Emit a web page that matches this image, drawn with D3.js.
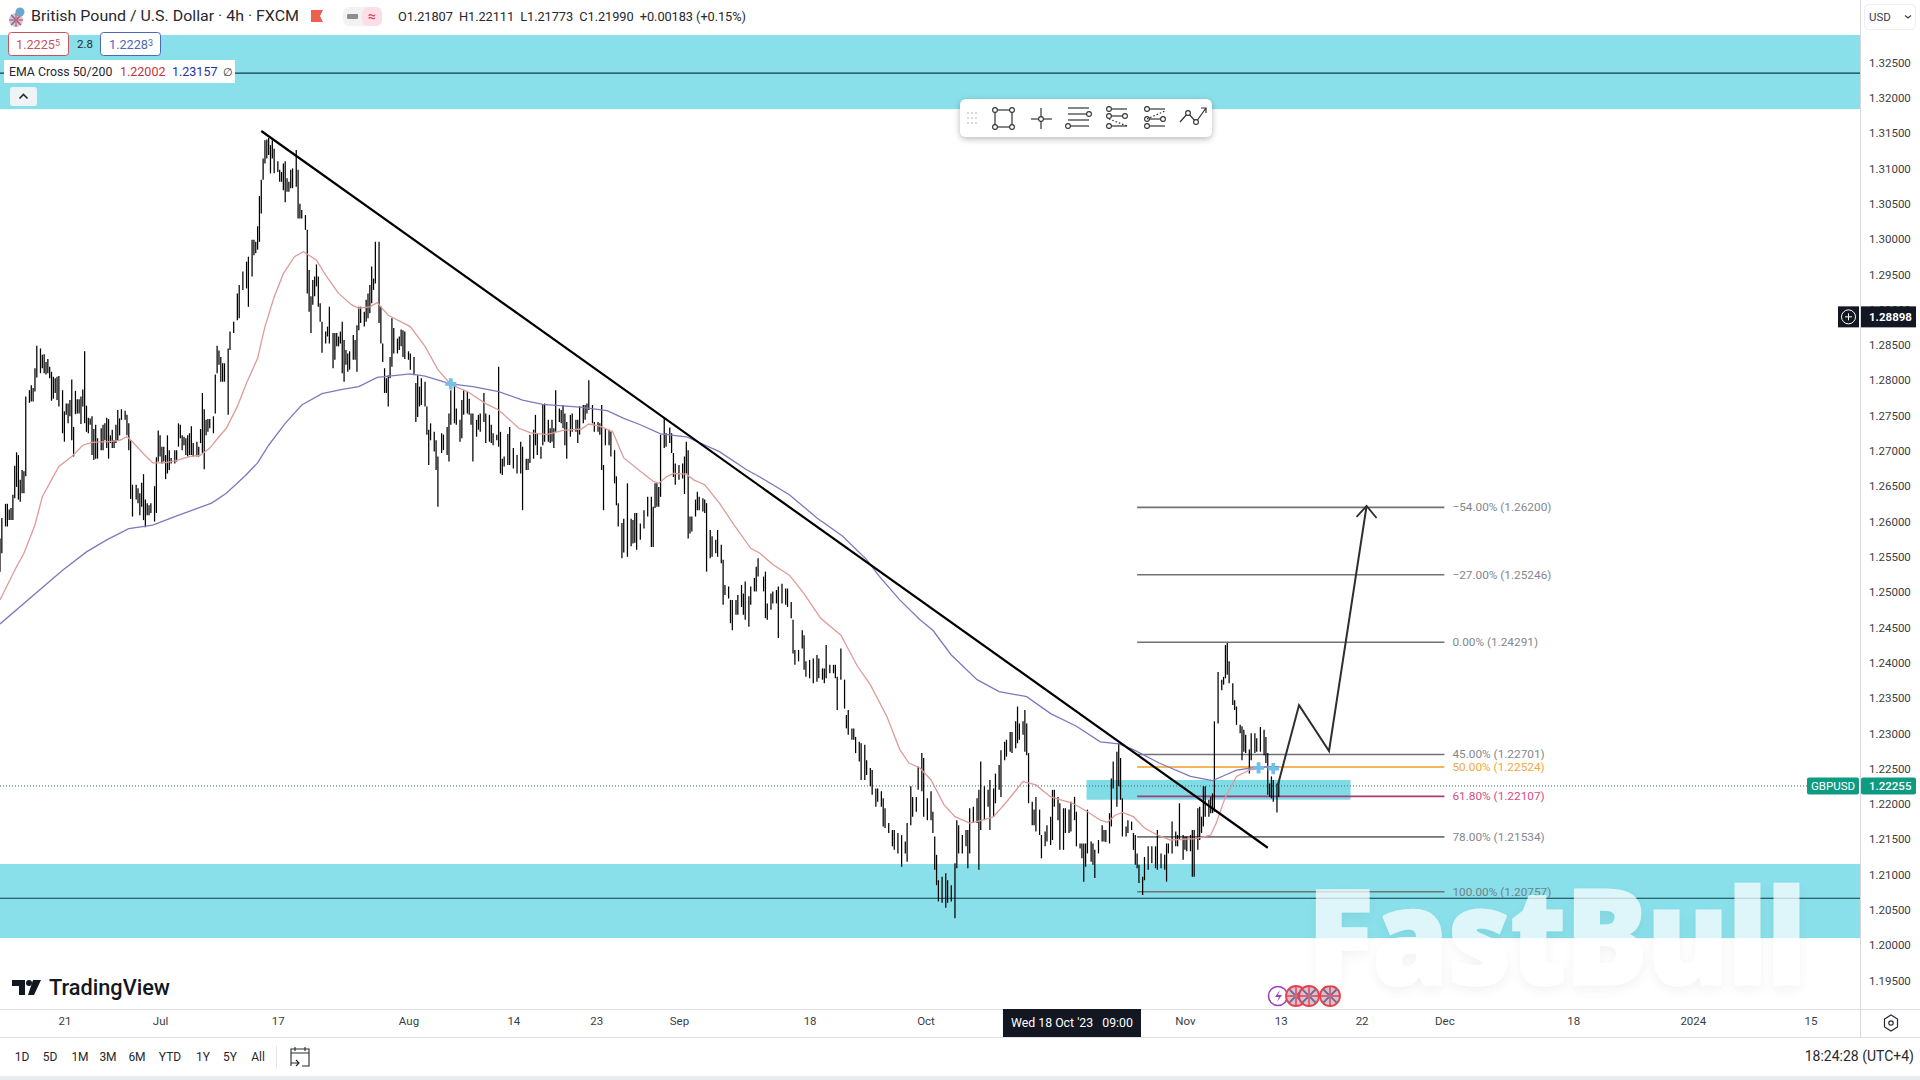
<!DOCTYPE html>
<html>
<head>
<meta charset="utf-8">
<title>GBPUSD 4h</title>
<script src="https://cdnjs.cloudflare.com/ajax/libs/d3/7.8.5/d3.min.js"></script>
<style>
  html, body { margin: 0; padding: 0; background: #fff; overflow: hidden; }
  text { font-family: Roboto, sans-serif; }
</style>
</head>
<body>
<svg id="chart" width="1920" height="1080"></svg>
<script>
// 4h bars. barNo counts 4h bars from the left edge of the pane
const barNo = [
  0,1,3,4,5,6,7,8,9,10,11,12,13,14,16,17,18,19,20,22,
  23,24,25,26,27,28,29,30,31,32,34,35,36,37,38,39,40,41,42,43,
  44,45,46,47,48,49,50,51,52,53,55,56,57,58,59,60,61,62,63,64,
  65,66,68,69,70,71,72,74,75,76,77,78,79,80,81,82,84,85,86,87,
  88,89,90,91,92,93,95,96,97,98,99,100,101,102,103,104,105,107,108,109,
  110,111,112,113,114,116,117,118,119,120,121,122,124,125,127,129,130,132,134,135,
  137,138,139,140,141,142,143,144,145,146,147,148,149,151,152,153,154,155,156,157,
  158,159,161,162,163,164,166,167,168,169,170,171,172,173,174,175,177,178,179,181,
  182,183,184,185,186,187,188,189,190,192,193,194,195,196,198,199,200,201,202,203,
  204,206,207,208,209,210,211,212,213,214,216,217,218,219,220,222,223,225,226,227,
  228,229,231,232,233,234,236,237,238,240,241,243,244,245,247,248,250,251,252,254,
  255,256,257,259,260,261,263,264,266,267,268,270,271,272,273,274,276,277,279,281,
  283,284,286,287,288,290,291,292,294,295,296,298,299,300,301,302,304,305,306,307,
  308,310,311,313,314,315,317,318,319,320,322,323,325,326,327,328,329,331,332,334,
  335,336,338,339,341,343,344,345,346,
  348,350,352,354,355,356,357,358,359,361,362,364,365,366,
  367,369,371,372,373,374,375,376,378,379,380,382,383,384,386,387,389,390,392,393,
  394,396,397,398,400,401,403,404,405,407,408,410,411,412,415,416,417,419,420,422,
  423,425,427,428,430,431,432,434,436,437,438,440,442,444,445,447,448,449,451,453,
  454,455,457,459,460,461,463,464,465,467,468,470,471,473,474,476,477,479,480,481,
  483,485,486,488,490,492,493,495,496,498,499,501,502,504,506,507,508,509,510,512,
  514,515,517,519,520,521,523,525,526,527,529,531,532,533,535,537,538,540,541,543,
  544,546,547,549,550,552,553,554,556,557,558,559,561,562,563,565,566,568,569,571,
  572,573,575,576,578,579,581,582,584,585,587,588,589,590,591,593,594,595,597,599,
  600,601,603,604,605,607,608,609,610,612,613,615,616,617,618,619,621,622,624,626,
  628,629,631,633,634,635,637,639,640,641,643,644,645,647,648,649,651,652,653,654,
  655,657,658,659,660,662,664,665,666,667,668,670,671,672,674,675,676,677,679,680,
  682,683,685,687,688,689,690,691,692,694,695
];
const highs = [
  1.2576,1.2605,1.2625,1.2625,1.2617,1.2619,1.2638,1.2679,1.2698,1.2694,1.2659,1.2673,1.2671,1.2777,1.2786,1.2793,1.2789,1.2817,1.2849,1.2845,
  1.2836,1.2837,1.2826,1.2830,1.2819,1.2812,1.2805,1.2803,1.2805,1.2806,1.2786,1.2756,1.2767,1.2767,1.2772,1.2801,1.2734,1.2785,1.2773,1.2773,
  1.2777,1.2787,1.2841,1.2764,1.2747,1.2746,1.2749,1.2731,1.2737,1.2718,1.2732,1.2737,1.2739,1.2747,1.2745,1.2722,1.2730,1.2715,1.2737,1.2758,
  1.2746,1.2759,1.2757,1.2751,1.2739,1.2715,1.2652,1.2652,1.2647,1.2640,1.2655,1.2667,1.2631,1.2626,1.2623,1.2626,1.2650,1.2691,1.2729,1.2722,
  1.2706,1.2706,1.2694,1.2722,1.2701,1.2690,1.2701,1.2701,1.2739,1.2737,1.2722,1.2720,1.2718,1.2722,1.2725,1.2735,1.2711,1.2713,1.2706,1.2731,
  1.2782,1.2759,1.2744,1.2745,1.2745,1.2749,1.2808,1.2849,1.2842,1.2833,1.2824,1.2824,1.2845,1.2869,1.2883,1.2923,1.2935,1.2954,1.2968,1.2975,
  1.2999,1.2999,1.2996,1.3018,1.3061,1.3084,1.3114,1.3140,1.3141,1.3143,1.3133,1.3140,1.3128,1.3110,1.3098,1.3095,1.3107,1.3110,1.3086,1.3081,
  1.3098,1.3100,1.3126,1.3098,1.3050,1.3041,1.3034,1.3013,1.2956,1.2919,1.2942,1.2947,1.2964,1.2947,1.2909,1.2883,1.2869,1.2876,1.2904,1.2867,
  1.2867,1.2867,1.2862,1.2869,1.2883,1.2857,1.2843,1.2838,1.2841,1.2864,1.2857,1.2878,1.2904,1.2904,1.2897,1.2914,1.2923,1.2935,1.2961,1.2944,
  1.2996,1.2996,1.2904,1.2852,1.2817,1.2803,1.2807,1.2833,1.2888,1.2874,1.2859,1.2862,1.2872,1.2871,1.2869,1.2841,1.2838,1.2833,1.2796,1.2807,
  1.2791,1.2803,1.2798,1.2763,1.2730,1.2739,1.2727,1.2715,1.2692,1.2725,1.2723,1.2734,1.2753,1.2786,1.2793,1.2760,1.2744,1.2772,1.2786,1.2784,
  1.2774,1.2753,1.2753,1.2744,1.2751,1.2753,1.2782,1.2753,1.2751,1.2737,1.2725,1.2723,1.2819,1.2727,1.2689,1.2692,1.2724,1.2734,1.2704,1.2694,
  1.2713,1.2706,1.2689,1.2689,1.2723,1.2730,1.2751,1.2725,1.2706,1.2766,1.2767,1.2744,1.2732,1.2744,1.2732,1.2786,1.2760,1.2758,1.2765,1.2753,
  1.2741,1.2751,1.2753,1.2744,1.2744,1.2763,1.2765,1.2765,1.2767,1.2800,1.2765,1.2741,1.2741,1.2739,1.2765,1.2680,1.2732,1.2730,1.2727,1.2701,
  1.2664,1.2626,1.2598,1.2604,1.2654,1.2604,1.2602,1.2612,1.2612,
  1.2597,1.2616,1.2635,1.2635,1.2621,1.2654,1.2654,1.2649,1.2723,1.2748,1.2725,1.2733,1.2725,1.2697,
  1.2682,1.2680,1.2682,1.2692,1.2713,1.2701,1.2607,1.2607,1.2631,1.2642,1.2635,1.2633,1.2631,1.2626,1.2588,1.2579,1.2574,1.2588,1.2567,1.2546,
  1.2510,1.2508,1.2489,1.2489,1.2489,1.2496,1.2510,1.2498,1.2515,1.2494,1.2508,1.2520,1.2536,1.2548,1.2522,1.2529,1.2484,1.2498,1.2501,1.2503,
  1.2508,1.2512,1.2505,1.2505,1.2486,1.2461,1.2418,1.2418,1.2446,1.2439,1.2402,1.2404,1.2406,1.2411,1.2406,1.2392,1.2392,1.2425,1.2397,1.2397,
  1.2397,1.2380,1.2420,1.2376,1.2326,1.2333,1.2307,1.2307,1.2295,1.2288,1.2286,1.2284,1.2262,1.2251,1.2248,1.2222,1.2222,1.2218,1.2208,1.2194,
  1.2173,1.2163,1.2163,1.2159,1.2156,1.2147,1.2173,1.2225,1.2210,1.2210,1.2253,1.2272,1.2265,1.2208,1.2218,1.2189,1.2154,1.2128,1.2092,1.2097,
  1.2102,1.2092,1.2085,1.2116,1.2177,1.2170,1.2156,1.2163,1.2163,1.2194,1.2196,1.2208,1.2220,1.2260,1.2225,1.2220,1.2234,1.2222,1.2243,1.2255,
  1.2276,1.2288,1.2291,1.2302,1.2302,1.2317,1.2338,1.2314,1.2317,1.2333,1.2314,1.2272,1.2203,1.2192,1.2210,1.2192,1.2156,1.2161,1.2170,1.2182,
  1.2220,1.2220,1.2210,1.2201,1.2194,1.2194,1.2192,1.2203,1.2210,1.2189,1.2144,1.2144,1.2144,1.2144,1.2192,1.2147,1.2144,1.2135,1.2149,1.2170,
  1.2163,1.2163,1.2187,1.2236,1.2260,1.2274,1.2286,1.2265,1.2208,1.2168,1.2177,1.2175,1.2159,1.2156,1.2130,1.2114,1.2097,1.2125,1.2140,1.2140,
  1.2140,1.2163,1.2130,1.2128,1.2144,1.2144,1.2175,1.2161,1.2156,1.2201,1.2156,1.2154,1.2154,1.2156,1.2163,1.2163,1.2194,1.2196,1.2182,1.2225,
  1.2225,1.2206,1.2210,1.2215,1.2317,1.2387,1.2376,1.2380,1.2425,1.2428,1.2402,1.2371,1.2347,1.2338,1.2312,1.2310,1.2305,1.2298,1.2277,1.2300,
  1.2300,1.2293,1.2309,1.2305,1.2295,1.2272,1.2229,1.2239,1.2234,1.2229,1.2232
];
const lows = [
  1.2529,1.2555,1.2593,1.2593,1.2602,1.2602,1.2602,1.2633,1.2649,1.2631,1.2628,1.2640,1.2640,1.2664,1.2768,1.2770,1.2770,1.2784,1.2804,1.2810,
  1.2817,1.2810,1.2808,1.2810,1.2803,1.2771,1.2774,1.2782,1.2772,1.2763,1.2725,1.2713,1.2751,1.2739,1.2749,1.2715,1.2692,1.2752,1.2753,1.2753,
  1.2738,1.2763,1.2739,1.2727,1.2725,1.2737,1.2694,1.2687,1.2689,1.2689,1.2701,1.2701,1.2715,1.2704,1.2689,1.2711,1.2704,1.2704,1.2711,1.2715,
  1.2722,1.2744,1.2744,1.2722,1.2701,1.2632,1.2607,1.2631,1.2626,1.2609,1.2621,1.2602,1.2592,1.2609,1.2609,1.2612,1.2600,1.2612,1.2685,1.2692,
  1.2682,1.2685,1.2660,1.2668,1.2673,1.2682,1.2682,1.2685,1.2706,1.2718,1.2701,1.2708,1.2694,1.2692,1.2694,1.2694,1.2692,1.2692,1.2692,1.2711,
  1.2697,1.2674,1.2722,1.2727,1.2732,1.2725,1.2753,1.2810,1.2822,1.2798,1.2798,1.2798,1.2751,1.2843,1.2867,1.2885,1.2888,1.2928,1.2930,1.2904,
  1.2947,1.2977,1.2980,1.2985,1.2996,1.3036,1.3084,1.3107,1.3114,1.3119,1.3093,1.3114,1.3093,1.3095,1.3081,1.3081,1.3069,1.3052,1.3067,1.3067,
  1.3072,1.3072,1.3074,1.3029,1.3029,1.3029,1.3013,1.2923,1.2897,1.2867,1.2907,1.2919,1.2933,1.2904,1.2883,1.2839,1.2852,1.2862,1.2852,1.2817,
  1.2829,1.2848,1.2848,1.2852,1.2810,1.2798,1.2822,1.2812,1.2815,1.2829,1.2829,1.2812,1.2871,1.2881,1.2876,1.2883,1.2888,1.2895,1.2909,1.2928,
  1.2937,1.2881,1.2852,1.2826,1.2782,1.2782,1.2763,1.2803,1.2819,1.2838,1.2838,1.2843,1.2848,1.2833,1.2830,1.2829,1.2815,1.2807,1.2741,1.2748,
  1.2763,1.2765,1.2763,1.2723,1.2680,1.2715,1.2699,1.2673,1.2621,1.2697,1.2701,1.2694,1.2685,1.2737,1.2739,1.2737,1.2713,1.2718,1.2751,1.2753,
  1.2751,1.2737,1.2685,1.2720,1.2730,1.2727,1.2741,1.2711,1.2713,1.2711,1.2708,1.2715,1.2706,1.2668,1.2666,1.2678,1.2680,1.2680,1.2675,1.2668,
  1.2668,1.2616,1.2673,1.2673,1.2683,1.2689,1.2708,1.2694,1.2689,1.2708,1.2713,1.2713,1.2711,1.2713,1.2704,1.2727,1.2741,1.2739,1.2732,1.2708,
  1.2689,1.2720,1.2727,1.2727,1.2711,1.2723,1.2739,1.2744,1.2753,1.2758,1.2739,1.2727,1.2727,1.2723,1.2673,1.2616,1.2708,1.2708,1.2692,1.2654,
  1.2623,1.2593,1.2548,1.2556,1.2550,1.2565,1.2569,1.2570,1.2560,
  1.2574,1.2590,1.2607,1.2564,1.2564,1.2619,1.2621,1.2621,1.2635,1.2704,1.2706,1.2711,1.2697,1.2663,
  1.2652,1.2659,1.2661,1.2639,1.2668,1.2576,1.2583,1.2586,1.2607,1.2616,1.2616,1.2614,1.2612,1.2529,1.2548,1.2550,1.2555,1.2550,1.2541,1.2482,
  1.2496,1.2491,1.2456,1.2446,1.2468,1.2468,1.2479,1.2468,1.2461,1.2451,1.2482,1.2501,1.2501,1.2522,1.2501,1.2463,1.2461,1.2475,1.2484,1.2484,
  1.2435,1.2484,1.2482,1.2479,1.2463,1.2413,1.2397,1.2402,1.2420,1.2390,1.2380,1.2378,1.2371,1.2373,1.2378,1.2376,1.2371,1.2378,1.2385,1.2385,
  1.2378,1.2333,1.2376,1.2335,1.2307,1.2298,1.2291,1.2291,1.2272,1.2260,1.2234,1.2234,1.2241,1.2225,1.2213,1.2196,1.2203,1.2196,1.2168,1.2166,
  1.2159,1.2140,1.2135,1.2130,1.2111,1.2130,1.2118,1.2170,1.2182,1.2189,1.2220,1.2218,1.2182,1.2177,1.2177,1.2159,1.2107,1.2085,1.2062,1.2060,
  1.2053,1.2060,1.2062,1.2038,1.2109,1.2130,1.2130,1.2140,1.2109,1.2130,1.2173,1.2173,1.2107,1.2163,1.2177,1.2196,1.2163,1.2182,1.2201,1.2220,
  1.2210,1.2262,1.2267,1.2274,1.2272,1.2279,1.2286,1.2291,1.2298,1.2274,1.2269,1.2201,1.2170,1.2170,1.2161,1.2156,1.2123,1.2140,1.2147,1.2142,
  1.2149,1.2196,1.2177,1.2135,1.2135,1.2159,1.2159,1.2161,1.2177,1.2140,1.2137,1.2123,1.2090,1.2111,1.2130,1.2118,1.2114,1.2095,1.2130,1.2147,
  1.2147,1.2146,1.2144,1.2168,1.2222,1.2196,1.2225,1.2206,1.2154,1.2154,1.2159,1.2163,1.2135,1.2114,1.2109,1.2088,1.2071,1.2092,1.2107,1.2116,
  1.2109,1.2107,1.2109,1.2107,1.2090,1.2130,1.2130,1.2140,1.2140,1.2149,1.2121,1.2135,1.2133,1.2133,1.2097,1.2097,1.2135,1.2149,1.2159,1.2168,
  1.2182,1.2182,1.2187,1.2187,1.2189,1.2314,1.2361,1.2369,1.2378,1.2383,1.2371,1.2340,1.2333,1.2312,1.2300,1.2262,1.2274,1.2272,1.2243,1.2262,
  1.2272,1.2274,1.2274,1.2269,1.2258,1.2213,1.2210,1.2208,1.2203,1.2188,1.2210
];

// EMA 50 and EMA 200, read at the bends of each line
const ema50Bars = [0,8,13,19,23,28,32,39,45,50,59,65,69,72,78,83,89,95,103,109,114,119,123,129,134,140,144,149,154,160,165,172,177,184,191,195,201,205,211,223,231,238,245,254,264,271,282,288,297,306,316,320,326,333,339,348,355,358,362,366,373,377,383,391,399,408,413,420,429,437,446,457,466,473,482,489,494,500,506,513,519,527,534,540,548,556,563,571,583,591,598,602,606,610,616,622,629,636,650,658,661,666,672,679,688,695];
const ema50 = [1.2489,1.2531,1.2555,1.2595,1.2635,1.2659,1.2678,1.2692,1.2708,1.2712,1.2713,1.2715,1.2720,1.2713,1.2696,1.2683,1.2683,1.2686,1.2692,1.2694,1.2704,1.2720,1.2732,1.2763,1.2796,1.2831,1.2876,1.2918,1.2951,1.2975,1.2982,1.2970,1.2949,1.2923,1.2907,1.2902,1.2904,1.2910,1.2892,1.2876,1.2848,1.2815,1.2794,1.2784,1.2767,1.2758,1.2732,1.2726,1.2723,1.2729,1.2731,1.2738,1.2735,1.2727,1.2690,1.2671,1.2657,1.2654,1.2663,1.2668,1.2667,1.2659,1.2652,1.2626,1.2595,1.2562,1.2555,1.2539,1.2524,1.2498,1.2463,1.2439,1.2395,1.2369,1.2324,1.2277,1.2258,1.2251,1.2234,1.2199,1.2182,1.2173,1.2177,1.2182,1.2206,1.2232,1.2227,1.2210,1.2201,1.2189,1.2177,1.2174,1.2184,1.2188,1.2182,1.2166,1.2156,1.2149,1.2151,1.2156,1.2173,1.2210,1.2239,1.2248,1.2253,1.2252];
const ema200Bars = [0,34,47,58,70,83,95,115,123,133,140,146,155,164,175,186,195,205,223,231,245,257,271,284,295,315,330,339,348,359,373,391,406,413,429,444,458,471,478,489,500,507,517,531,543,558,571,585,598,608,616,630,647,659,666,672,683,695];
const ema200 = [1.2455,1.2531,1.2557,1.2574,1.2590,1.2595,1.2607,1.2626,1.2640,1.2664,1.2683,1.2708,1.2739,1.2765,1.2781,1.2787,1.2791,1.2804,1.2809,1.2806,1.2795,1.2791,1.2784,1.2772,1.2766,1.2762,1.2757,1.2746,1.2737,1.2724,1.2720,1.2699,1.2673,1.2663,1.2638,1.2605,1.2579,1.2546,1.2522,1.2489,1.2461,1.2446,1.2411,1.2376,1.2359,1.2352,1.2328,1.2310,1.2288,1.2285,1.2277,1.2258,1.2239,1.2233,1.2241,1.2248,1.2252,1.2253];

// EMA cross markers
const crossBars = [245, 684, 692];
const crossPrices = [1.2795, 1.2251, 1.2250];

// support / resistance zones and their centre lines
const zoneTops = [1.3289, 1.2115];
const zoneBottoms = [1.3184, 1.2010];
const zoneMids = [1.3235, 1.20665];
const smallZoneBars = [590.5, 734];
const smallZonePrices = [1.2234, 1.2206];

// trend line and projected path
const trendBars = [142, 689];
const trendPrices = [1.3153, 1.2138];
const pathBars = [694.5, 706, 722.3, 742.7];
const pathPrices = [1.2227, 1.2340, 1.2275, 1.2622];

// fibonacci levels
const fibBars = [618, 785];
const fibLevels = [-54, -27, 0, 45, 50, 61.8, 78, 100];
const fibPrices = [1.26200, 1.25246, 1.24291, 1.22701, 1.22524, 1.22107, 1.21534, 1.20757];
const fibColors = ['#6f7278','#6f7278','#6f7278','#6f7278','#f29d26','#a83a78','#6f7278','#6f7278'];
const fibTextColors = ['#84878e','#84878e','#84878e','#84878e','#f0a840','#d24f86','#84878e','#6d8388'];

// axes
const priceTicks = d3.range(27).map(i => +(1.195 + i * 0.005).toFixed(3));
const timeTickBars = [35, 87, 151, 222, 279, 324, 369, 440, 503, 644, 696, 740, 785, 855, 920, 984];
const timeTickLabels = ['21','Jul','17','Aug','14','23','Sep','18','Oct','Nov','13','22','Dec','18','2024','15'];
const rangeButtons = ['1D','5D','1M','3M','6M','YTD','1Y','5Y','All'];
const rangeButtonX = [22, 50, 80, 108, 137, 170, 203, 230, 258];

const lastPrice = 1.22255;
const crosshairPrice = 1.28898;
const crosshairBar = 582.6;

const paneRight = 1860, paneTop = 35, paneBottom = 1009;
const x = d3.scaleLinear().domain([0, 1010.87]).range([0, paneRight]);
const y = d3.scaleLinear().domain([1.325, 1.195]).range([62.5, 980.5]);

const svg = d3.select('#chart');
const defs = svg.append('defs');
defs.append('clipPath').attr('id', 'pane').append('rect')
  .attr('x', 0).attr('y', paneTop).attr('width', paneRight).attr('height', paneBottom - paneTop);
const shadow = defs.append('filter').attr('id', 'soft').attr('x', '-20%').attr('y', '-40%').attr('width', '140%').attr('height', '200%');
shadow.append('feDropShadow').attr('dx', 0).attr('dy', 2).attr('stdDeviation', 3).attr('flood-color', '#000').attr('flood-opacity', 0.28);
const wmShadow = defs.append('filter').attr('id', 'wm').attr('x', '-5%').attr('y', '-20%').attr('width', '110%').attr('height', '150%');
wmShadow.append('feDropShadow').attr('dx', 0).attr('dy', 5).attr('stdDeviation', 6).attr('flood-color', '#000').attr('flood-opacity', 0.07);

const pane = svg.append('g').attr('clip-path', 'url(#pane)');

// zones
pane.selectAll('rect.zone').data(zoneTops).join('rect')
  .attr('class', 'zone')
  .attr('x', 0).attr('width', paneRight)
  .attr('y', d => y(d))
  .attr('height', (d, i) => y(zoneBottoms[i]) - y(d))
  .attr('fill', '#8ae0ea');
pane.append('rect')
  .attr('x', x(smallZoneBars[0])).attr('width', x(smallZoneBars[1]) - x(smallZoneBars[0]))
  .attr('y', y(smallZonePrices[0])).attr('height', y(smallZonePrices[1]) - y(smallZonePrices[0]))
  .attr('fill', '#7fdbe6');
pane.selectAll('line.mid').data(zoneMids).join('line')
  .attr('class', 'mid')
  .attr('x1', 0).attr('x2', paneRight)
  .attr('y1', d => y(d)).attr('y2', d => y(d))
  .attr('stroke', '#0b3d4a').attr('stroke-width', 1.1);

// fib levels
pane.selectAll('line.fib').data(fibPrices).join('line')
  .attr('class', 'fib')
  .attr('x1', x(fibBars[0])).attr('x2', x(fibBars[1]))
  .attr('y1', d => y(d)).attr('y2', d => y(d))
  .attr('stroke', (d, i) => fibColors[i]).attr('stroke-width', 1.6);
pane.selectAll('text.fib').data(fibPrices).join('text')
  .attr('class', 'fib')
  .attr('x', x(fibBars[1]) + 8)
  .attr('y', d => y(d) + 4)
  .attr('font-size', 11.8)
  .attr('fill', (d, i) => fibTextColors[i])
  .text((d, i) => `${fibLevels[i] < 0 ? '\u2212' : ''}${Math.abs(fibLevels[i]).toFixed(2)}% (${d.toFixed(5)})`);

// last price line
pane.append('line')
  .attr('x1', 0).attr('x2', 1807)
  .attr('y1', y(lastPrice)).attr('y2', y(lastPrice))
  .attr('stroke', '#2f6f68').attr('stroke-width', 1).attr('stroke-dasharray', '1 2');

// bars
pane.append('g').selectAll('line').data(barNo).join('line')
  .attr('x1', d => x(d)).attr('x2', d => x(d))
  .attr('y1', (d, i) => y(highs[i]))
  .attr('y2', (d, i) => y(lows[i]))
  .attr('stroke', '#000').attr('stroke-width', 1.25);

// EMAs
const emaLine = d3.line().x(d => x(d[0])).y(d => y(d[1]));
pane.append('path').attr('d', emaLine(d3.zip(ema50Bars, ema50)))
  .attr('fill', 'none').attr('stroke', '#dd9c98').attr('stroke-width', 1.3);
pane.append('path').attr('d', emaLine(d3.zip(ema200Bars, ema200)))
  .attr('fill', 'none').attr('stroke', '#7c79bd').attr('stroke-width', 1.3);

// cross markers
pane.selectAll('path.cross').data(crossBars).join('path')
  .attr('class', 'cross')
  .attr('d', d3.symbol(d3.symbolCross, 70))
  .attr('transform', (d, i) => `translate(${x(d)},${y(crossPrices[i])})`)
  .attr('fill', '#74bfe8');

// trend line
pane.append('line')
  .attr('x1', x(trendBars[0])).attr('y1', y(trendPrices[0]))
  .attr('x2', x(trendBars[1])).attr('y2', y(trendPrices[1]))
  .attr('stroke', '#000').attr('stroke-width', 2.2);

// projected path with arrow head
const pathPts = d3.zip(pathBars, pathPrices);
pane.append('path').attr('d', emaLine(pathPts))
  .attr('fill', 'none').attr('stroke', '#2e2e2e').attr('stroke-width', 2).attr('stroke-linejoin', 'miter');
const tipX = x(pathBars[3]), tipY = y(pathPrices[3]);
pane.append('path')
  .attr('d', `M${tipX - 10},${tipY + 11}L${tipX},${tipY}L${tipX + 10},${tipY + 12}`)
  .attr('fill', 'none').attr('stroke', '#2e2e2e').attr('stroke-width', 1.8);

// price axis
const yAxis = d3.axisRight(y).tickValues(priceTicks).tickSize(0).tickPadding(9).tickFormat(d3.format('.5f'));
const yAxisG = svg.append('g').attr('transform', `translate(${paneRight},0)`).call(yAxis);
yAxisG.select('.domain').remove();
yAxisG.selectAll('text').attr('font-size', 11.5).attr('font-family', 'Roboto, sans-serif').attr('fill', '#3a3d45');
svg.append('line').attr('x1', paneRight + 0.5).attr('x2', paneRight + 0.5).attr('y1', 0).attr('y2', 1037)
  .attr('stroke', '#d6d8de').attr('stroke-width', 1);

// time axis
const xAxis = d3.axisBottom(x).tickValues(timeTickBars).tickSize(0).tickPadding(8)
  .tickFormat((d, i) => timeTickLabels[i]);
const xAxisG = svg.append('g').attr('transform', `translate(0,${paneBottom})`).call(xAxis);
xAxisG.select('.domain').remove();
xAxisG.selectAll('text').attr('font-size', 11.5).attr('font-family', 'Roboto, sans-serif').attr('fill', '#3a3d45');
[1009, 1037].forEach(v => {
  svg.append('line').attr('x1', 0).attr('x2', 1920).attr('y1', v + 0.5).attr('y2', v + 0.5)
    .attr('stroke', '#dfe1e6').attr('stroke-width', 1);
});
svg.append('rect').attr('x', 0).attr('y', 1076).attr('width', 1920).attr('height', 4).attr('fill', '#e9ecef');

// crosshair date label
const crossX = x(crosshairBar);
svg.append('rect').attr('x', crossX - 69).attr('y', 1009).attr('width', 138).attr('height', 28).attr('fill', '#131722');
svg.append('text').attr('x', crossX).attr('y', 1027).attr('text-anchor', 'middle')
  .attr('font-size', 12.3).attr('fill', '#fff').attr('xml:space', 'preserve').text("Wed 18 Oct '23   09:00");

// price labels on the axis
svg.append('rect').attr('x', 1861).attr('y', y(crosshairPrice) - 10.5).attr('width', 55).attr('height', 21).attr('fill', '#131722');
svg.append('text').attr('x', 1869).attr('y', y(crosshairPrice) + 4).attr('font-size', 11.5).attr('font-weight', 700).attr('fill', '#fff')
  .text(crosshairPrice.toFixed(5));
svg.append('rect').attr('x', 1838).attr('y', y(crosshairPrice) - 10.5).attr('width', 21).attr('height', 21).attr('fill', '#131722');
svg.append('circle').attr('cx', 1848.5).attr('cy', y(crosshairPrice)).attr('r', 7).attr('fill', 'none').attr('stroke', '#fff');
svg.append('path').attr('d', `M1845,${y(crosshairPrice)}h7M1848.5,${y(crosshairPrice) - 3.5}v7`).attr('stroke', '#fff');

svg.append('rect').attr('x', 1807).attr('y', y(lastPrice) - 8.5).attr('width', 52).attr('height', 17).attr('rx', 2).attr('fill', '#0f9a82');
svg.append('text').attr('x', 1833).attr('y', y(lastPrice) + 4).attr('text-anchor', 'middle').attr('font-size', 11.5).attr('fill', '#fff').text('GBPUSD');
svg.append('rect').attr('x', 1861).attr('y', y(lastPrice) - 8.5).attr('width', 55).attr('height', 17).attr('rx', 2).attr('fill', '#0f9a82');
svg.append('text').attr('x', 1869).attr('y', y(lastPrice) + 4).attr('font-size', 11.5).attr('font-weight', 500).attr('fill', '#fff').text(lastPrice.toFixed(5));

// currency button
svg.append('rect').attr('x', 1864.5).attr('y', 4.5).attr('width', 51).attr('height', 25).attr('rx', 4).attr('fill', '#fff').attr('stroke', '#eceef1');
svg.append('text').attr('x', 1869).attr('y', 21).attr('font-size', 11.5).attr('fill', '#3a3d45').text('USD');
svg.append('path').attr('d', 'M1905,15.5l3,2.5l3,-2.5').attr('fill', 'none').attr('stroke', '#3a3d45').attr('stroke-width', 1.2);

// header
function ukFlag(g, cx, cy, r) {
  g.append('circle').attr('cx', cx).attr('cy', cy).attr('r', r).attr('fill', '#d9c3d0');
  g.append('path').attr('d', `M${cx - r * 0.7},${cy - r * 0.7}L${cx + r * 0.7},${cy + r * 0.7}M${cx + r * 0.7},${cy - r * 0.7}L${cx - r * 0.7},${cy + r * 0.7}`)
    .attr('stroke', '#676b96').attr('stroke-width', r * 0.2);
  g.append('path').attr('d', `M${cx - r},${cy}H${cx + r}M${cx},${cy - r}V${cy + r}`).attr('stroke', '#d8647a').attr('stroke-width', r * 0.2);
}
const head = svg.append('g');
ukFlag(head, 16, 20, 7);
head.append('circle').attr('cx', 20).attr('cy', 12).attr('r', 4.5).attr('fill', '#6ba6cc');
head.append('text').attr('x', 31).attr('y', 21).attr('font-size', 15.5).attr('fill', '#26282e')
  .attr('textLength', 268).attr('lengthAdjust', 'spacingAndGlyphs')
  .text('British Pound / U.S. Dollar \u00b7 4h \u00b7 FXCM');
head.append('path').attr('d', 'M311,10h12l-3,6l3,6h-12z').attr('fill', '#ee5f50');
head.append('rect').attr('x', 343).attr('y', 7).attr('width', 39).attr('height', 19).attr('rx', 6).attr('fill', '#f2f2f4');
head.append('rect').attr('x', 362).attr('y', 7).attr('width', 20).attr('height', 19).attr('rx', 6).attr('fill', '#fbdfe6');
head.append('rect').attr('x', 347).attr('y', 14).attr('width', 11).attr('height', 5).attr('rx', 1).attr('fill', '#8a8d95');
head.append('text').attr('x', 372).attr('y', 21).attr('text-anchor', 'middle').attr('font-size', 14).attr('font-weight', 700).attr('fill', '#e0476b').text('\u2248');
head.append('text').attr('x', 398).attr('y', 20.5).attr('font-size', 12.8).attr('fill', '#26282e')
  .attr('textLength', 348).attr('lengthAdjust', 'spacing').attr('xml:space', 'preserve')
  .text('O1.21807  H1.22111  L1.21773  C1.21990  +0.00183 (+0.15%)');

// quote boxes
head.append('rect').attr('x', 8.5).attr('y', 32.5).attr('width', 60).attr('height', 23).attr('rx', 3).attr('fill', '#fff').attr('stroke', '#c9525f');
head.append('text').attr('x', 16).attr('y', 49).attr('font-size', 12.7).attr('fill', '#c9525f').html('1.2225<tspan dy="-3" font-size="9">5</tspan>');
head.append('text').attr('x', 77).attr('y', 48).attr('font-size', 11.5).attr('fill', '#26282e').text('2.8');
head.append('rect').attr('x', 100.5).attr('y', 32.5).attr('width', 60).attr('height', 23).attr('rx', 3).attr('fill', '#fff').attr('stroke', '#4d68b5');
head.append('text').attr('x', 109).attr('y', 49).attr('font-size', 12.7).attr('fill', '#4d68b5').html('1.2228<tspan dy="-3" font-size="9">3</tspan>');

// indicator legend
head.append('rect').attr('x', 4).attr('y', 60).attr('width', 231).attr('height', 23).attr('fill', '#fff');
head.append('text').attr('x', 9).attr('y', 76).attr('font-size', 12.3).attr('fill', '#26282e').text('EMA Cross 50/200');
head.append('text').attr('x', 120).attr('y', 76).attr('font-size', 12.5).attr('fill', '#c8323f').text('1.22002');
head.append('text').attr('x', 172).attr('y', 76).attr('font-size', 12.5).attr('fill', '#2330a8').text('1.23157');
head.append('text').attr('x', 223).attr('y', 76).attr('font-size', 10.5).attr('fill', '#26282e').text('\u2205');
head.append('rect').attr('x', 10).attr('y', 87).attr('width', 27).attr('height', 19).attr('rx', 3).attr('fill', '#eef3f6');
head.append('path').attr('d', 'M19.5,98.5l4,-4l4,4').attr('fill', 'none').attr('stroke', '#26282e').attr('stroke-width', 1.6);

// floating drawing toolbar
const tb = svg.append('g').attr('transform', 'translate(960,99)');
tb.append('rect').attr('width', 252).attr('height', 38).attr('rx', 6).attr('fill', '#fff').attr('filter', 'url(#soft)');
d3.cross([8, 12, 16], [14, 19, 24]).forEach(p => {
  tb.append('circle').attr('cx', p[0]).attr('cy', p[1]).attr('r', 0.9).attr('fill', '#c4c7cd');
});
function knob(g, cx, cy) {
  g.append('circle').attr('cx', cx).attr('cy', cy).attr('r', 2.4).attr('fill', '#fff').attr('stroke', '#333').attr('stroke-width', 1.1);
}
function seg(g, a, b, c, d, dash) {
  g.append('line').attr('x1', a).attr('y1', b).attr('x2', c).attr('y2', d).attr('stroke', '#333').attr('stroke-width', 1.2)
    .attr('stroke-dasharray', dash ? '1.5 2' : null);
}
[[35,11,52,11],[35,28,52,28],[35,11,35,28],[52,11,52,28]].forEach(s => seg(tb, ...s));
[[35,11],[52,11],[35,28],[52,28]].forEach(k => knob(tb, ...k));
seg(tb, 71, 20, 92, 20); seg(tb, 81, 9, 81, 30); knob(tb, 81, 20);
[9, 15, 21, 27].forEach((v, i) => seg(tb, i === 3 ? 108 : 108, v, 129, v));
knob(tb, 129, 15); knob(tb, 108, 27);
[[149,10],[149,17],[149,27]].forEach(k => { seg(tb, k[0], k[1], 167, k[1]); knob(tb, ...k); });
seg(tb, 149, 20, 167, 27, true); knob(tb, 165, 17);
[[187,10],[187,20],[187,27]].forEach(k => { seg(tb, k[0], k[1], 205, k[1]); knob(tb, ...k); });
seg(tb, 187, 20, 205, 12, true); knob(tb, 203, 20);
tb.append('path').attr('d', 'M220,23l8,-9l8,9l10,-14M241,9h5v5').attr('fill', 'none').attr('stroke', '#333').attr('stroke-width', 1.2);
knob(tb, 228, 14); knob(tb, 236, 23);

// TradingView mark
const tv = svg.append('g');
tv.append('path').attr('d', 'M12,980h13v15h-6v-9h-7zM33,980h8l-7,15h-6z').attr('fill', '#131722');
tv.append('circle').attr('cx', 29).attr('cy', 983).attr('r', 3).attr('fill', '#131722');
tv.append('text').attr('x', 49).attr('y', 994.5).attr('font-size', 21.5).attr('font-weight', 500).attr('fill', '#131722')
  .attr('textLength', 121).attr('lengthAdjust', 'spacingAndGlyphs').text('TradingView');

// event icons above the time axis
const ev = svg.append('g');
ev.append('circle').attr('cx', 1278).attr('cy', 996).attr('r', 9.5).attr('fill', '#fff').attr('stroke', '#9a3fc4').attr('stroke-width', 1.6);
ev.append('path').attr('d', 'M1280,990l-5,7h4l-2,5l5,-7h-4z').attr('fill', '#9a3fc4');
[1296, 1309, 1330].forEach(cx => {
  ukFlag(ev, cx, 996, 9.5);
  ev.append('circle').attr('cx', cx).attr('cy', 996).attr('r', 10).attr('fill', 'none').attr('stroke', '#e8404a').attr('stroke-width', 1.8);
});

// bottom bar
const bottom = svg.append('g');
bottom.selectAll('text').data(rangeButtons).join('text')
  .attr('x', (d, i) => rangeButtonX[i]).attr('y', 1061).attr('text-anchor', 'middle')
  .attr('font-size', 12).attr('fill', '#26282e').text(d => d);
bottom.append('line').attr('x1', 276.5).attr('x2', 276.5).attr('y1', 1046).attr('y2', 1069).attr('stroke', '#e3e5e9');
bottom.append('path').attr('d', 'M291,1066v-17h18v17h-7M291,1053h18M295,1047v4M305,1047v4M291,1063h8M296,1060l3,3l-3,3')
  .attr('fill', 'none').attr('stroke', '#26282e').attr('stroke-width', 1.1);
bottom.append('text').attr('x', 1914).attr('y', 1061).attr('text-anchor', 'end').attr('font-size', 14).attr('fill', '#26282e').text('18:24:28 (UTC+4)');
bottom.append('path').attr('d', 'M1891,1015l6.5,4v8l-6.5,4l-6.5,-4v-8z').attr('fill', 'none').attr('stroke', '#26282e').attr('stroke-width', 1.2);
bottom.append('circle').attr('cx', 1891).attr('cy', 1023).attr('r', 2.2).attr('fill', 'none').attr('stroke', '#26282e').attr('stroke-width', 1.2);

// watermark
svg.append('text').attr('x', 1308).attr('y', 984)
  .attr('font-size', 132).attr('font-weight', 800)
  .attr('textLength', 498).attr('lengthAdjust', 'spacingAndGlyphs')
  .attr('fill', '#fff').attr('stroke', '#fff').attr('stroke-width', 3)
  .attr('opacity', 0.72).attr('filter', 'url(#wm)')
  .style('font-family', '"Open Sans", sans-serif')
  .text('FastBull');
</script>
</body>
</html>
